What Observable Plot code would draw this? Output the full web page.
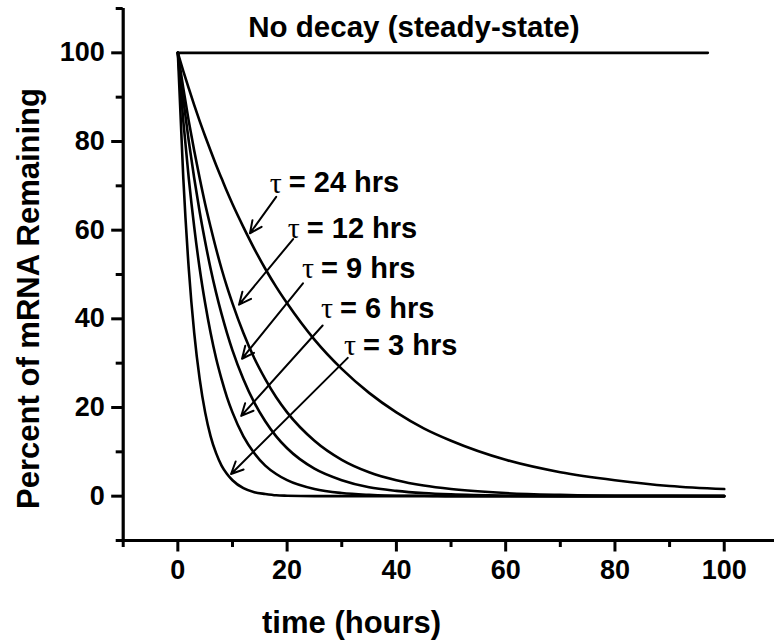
<!DOCTYPE html>
<html>
<head>
<meta charset="utf-8">
<script src="https://cdn.jsdelivr.net/npm/d3@7"></script>
<script src="https://cdn.jsdelivr.net/npm/@observablehq/plot@0.6"></script>
<style>
  html, body { margin: 0; padding: 0; background: #fff; }
</style>
</head>
<body>
<div id="chart"></div>
<script>
// ---- data ----
const time  = [0,1,2,3,4,5,6,7,8,9,10,12,14,16,18,20,25,30,35,40,45,50,60,70,80,90,100];
const tau3  = [100,71.7,51.3,36.8,26.4,18.9,13.5,9.7,6.9,5.0,3.6,1.8,0.9,0.5,0.2,0.1,0,0,0,0,0,0,0,0,0,0,0];
const tau6  = [100,84.6,71.7,60.7,51.3,43.5,36.8,31.1,26.4,22.3,18.9,13.5,9.7,6.9,5.0,3.6,1.6,0.7,0.3,0.1,0.1,0,0,0,0,0,0];
const tau9  = [100,89.5,80.1,71.7,64.1,57.4,51.3,45.9,41.1,36.8,32.9,26.4,21.1,16.9,13.5,10.8,6.2,3.6,2.0,1.2,0.7,0.4,0.1,0,0,0,0];
const tau12 = [100,92.0,84.6,77.9,71.7,65.9,60.7,55.8,51.3,47.2,43.5,36.8,31.1,26.4,22.3,18.9,12.5,8.2,5.4,3.6,2.4,1.6,0.7,0.3,0.1,0.1,0];
const tau24 = [100,95.9,92.0,88.2,84.6,81.2,77.9,74.7,71.7,68.7,65.9,60.7,55.8,51.3,47.2,43.5,35.3,28.7,23.3,18.9,15.3,12.5,8.2,5.4,3.6,2.3,1.6];

const steadyTime  = [0, 97];
const steadyValue = [100, 100];

const labelText = ["= 24 hrs", "= 12 hrs", "= 9 hrs", "= 6 hrs", "= 3 hrs"];
const labelX    = [20.3, 23.6, 26.2, 29.7, 33.9];
const labelY    = [70.6, 60.4, 51.4, 42.3, 34.0];
const arrowX1   = [18.0, 21.1, 22.9, 26.5, 31.1];
const arrowY1   = [67.5, 58.0, 48.0, 38.5, 31.2];
const arrowX2   = [13.2, 11.2, 11.75, 11.6, 9.74];
const arrowY2   = [59.3, 43.2, 31.0, 18.1, 5.0];

const xMajor = [0, 20, 40, 60, 80, 100];
const xMinor = [-10, 10, 30, 50, 70, 90];
const yMajor = [0, 20, 40, 60, 80, 100];
const yMinor = [-10, 10, 30, 50, 70, 90, 110];

const steadyLabel = "No decay (steady-state)";
const xTitle = "time (hours)";
const yTitle = "Percent of mRNA Remaining";

// ---- tables ----
const series = [
  {name: "tau3", v: tau3}, {name: "tau6", v: tau6}, {name: "tau9", v: tau9},
  {name: "tau12", v: tau12}, {name: "tau24", v: tau24}
];
const curves = series.flatMap(s => time.map((t, i) => ({series: s.name, t, v: s.v[i]})));
const steady = steadyTime.map((t, i) => ({t, v: steadyValue[i]}));
const labels = labelText.map((txt, i) => ({txt, x: labelX[i], y: labelY[i]}));
const arrows = arrowX1.map((x1, i) => ({x1, y1: arrowY1[i], x2: arrowX2[i], y2: arrowY2[i]}));

const FONT = "'Liberation Sans', Arial, Helvetica, sans-serif";

const chart = Plot.plot({
  width: 774,
  height: 641,
  marginLeft: 122.7,
  marginRight: 0,
  marginTop: 8,
  marginBottom: 101,
  style: {fontFamily: FONT, fontWeight: "bold", background: "#fff", color: "#000", overflow: "visible"},
  x: {domain: [-10, 109.2]},
  y: {domain: [-10, 110]},
  marks: [
    // axes frame lines
    Plot.ruleY([-10], {stroke: "#000", strokeWidth: 3.2}),
    Plot.ruleX([-10], {stroke: "#000", strokeWidth: 3.2}),
    // major ticks + labels
    Plot.axisX({ticks: xMajor, tickSize: 11.5, tickPadding: 8, strokeWidth: 3,
      fontSize: 27, fontWeight: "bold", label: null, tickFormat: d => String(d)}),
    Plot.axisY({ticks: yMajor, tickSize: 11.5, tickPadding: 7, strokeWidth: 3,
      fontSize: 27, fontWeight: "bold", label: null, tickFormat: d => String(d)}),
    // minor ticks
    Plot.axisX({ticks: xMinor, tickSize: 7, strokeWidth: 3, text: null, label: null}),
    Plot.axisY({ticks: yMinor, tickSize: 7, strokeWidth: 3, text: null, label: null}),
    // curves
    Plot.line(curves, {x: "t", y: "v", z: "series", stroke: "#000", strokeWidth: 2.6, curve: "monotone-x"}),
    Plot.line(steady, {x: "t", y: "v", stroke: "#000", strokeWidth: 2.6}),
    // arrows
    Plot.arrow(arrows, {x1: "x1", y1: "y1", x2: "x2", y2: "y2", stroke: "#000", strokeWidth: 2,
      headLength: 10, headAngle: 50}),
    // labels
    Plot.text(labels, {x: "x", y: "y", text: () => "τ", textAnchor: "end", dx: -7, lineAnchor: "middle",
      fontSize: 30, fontWeight: "normal", fontFamily: "'Liberation Serif', 'Times New Roman', serif", fill: "#000"}),
    Plot.text(labels, {x: "x", y: "y", text: "txt", textAnchor: "start", lineAnchor: "middle",
      fontSize: 29, fontWeight: "bold", fill: "#000"}),
    Plot.text([steadyLabel], {x: 43.2, y: 103.5, text: d => d, textAnchor: "middle", lineAnchor: "bottom",
      fontSize: 29.5, fontWeight: "bold", fill: "#000"}),
    // axis titles
    Plot.text([xTitle], {x: 31.8, y: -10, dy: 92, text: d => d, textAnchor: "middle", lineAnchor: "bottom",
      fontSize: 31, fontWeight: "bold", fill: "#000"}),
    Plot.text([yTitle], {x: -10, y: 44.6, dx: -84.7, text: d => d, rotate: -90, textAnchor: "middle",
      lineAnchor: "bottom", fontSize: 31, fontWeight: "bold", fill: "#000"})
  ]
});

document.getElementById("chart").appendChild(chart);
</script>
</body>
</html>
